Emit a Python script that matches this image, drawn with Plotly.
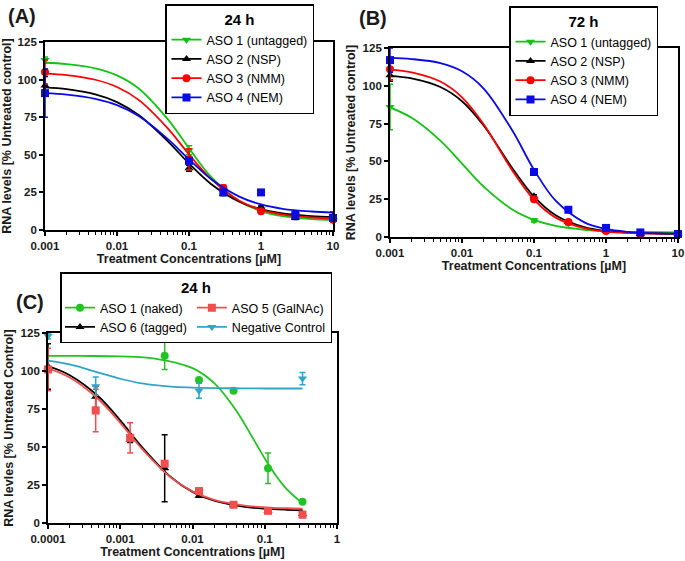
import plotly.graph_objects as go

FONT = "Liberation Sans"

# ---------------- (A) 24 h and (B) 72 h ----------------
conc_ab = [0.001, 0.1, 0.3, 1, 3, 10]
fit_x_ab = [0.001, 0.002, 0.005, 0.01, 0.02, 0.05, 0.1, 0.2, 0.5, 1, 2, 5, 10]

names_ab = ["ASO 1 (untagged)", "ASO 2 (NSP)", "ASO 3 (NMM)", "ASO 4 (NEM)"]
colors_ab = ["#13c313", "#000000", "#ff0000", "#0a0ae6"]
symbols_ab = ["triangle-down", "triangle-up", "circle", "square"]

# (A) 24 h  - mean values and error
a_aso1 = [113, 53, 25, 14, 10, 6]
a_aso1_err = [2, 3, 2, 1, 1, 1]
a_aso2 = [96, 41, 24, 15, 8, 9]
a_aso2_err = [6, 2, 1, 1, 1, 3]
a_aso3 = [105, 47, 28, 12.5, 10, 7]
a_aso3_err = [8, 7, 2, 1, 1, 1]
a_aso4 = [91, 46, 25, 25, 10, 8]
a_aso4_err = [16, 2, 1, 1, 1, 2]
# (A) fitted curves
a_fit1 = [111.2, 110.3, 107.5, 102.8, 94.1, 74.0, 54.3, 35.7, 19.2, 12.6, 9.2, 7.2, 6.6]
a_fit2 = [94.8, 93.6, 90.1, 85.0, 76.4, 59.3, 44.2, 30.8, 18.8, 13.8, 11.0, 9.2, 8.6]
a_fit3 = [104.0, 103.0, 99.9, 95.1, 86.5, 67.9, 50.3, 34.1, 19.5, 13.5, 10.2, 8.3, 7.6]
a_fit4 = [91.0, 90.0, 87.2, 83.0, 75.8, 60.8, 47.0, 34.1, 22.2, 17.0, 14.1, 12.3, 11.6]

# (B) 72 h
b_aso1 = [86, 11, 9, 4, 2, 2]
b_aso1_err = [15, 1, 1, 1, 1, 1]
b_aso2 = [107, 27, 10, 4, 2, 2]
b_aso2_err = [4, 1, 1, 1, 1, 1]
b_aso3 = [111, 25, 10, 4, 2, 2]
b_aso3_err = [7, 1, 1, 1, 1, 1]
b_aso4 = [117, 43, 18, 6, 3, 2]
b_aso4_err = [8, 1, 1, 1, 1, 1]
b_fit1 = [85.7, 78.8, 63.7, 48.5, 33.3, 18.2, 11.3, 7.3, 4.8, 3.9, 3.45, 3.2, 3.1]
b_fit2 = [106.6, 104.9, 99.2, 89.8, 73.7, 45.5, 26.7, 14.4, 6.5, 4.0, 2.9, 2.3, 2.1]
b_fit3 = [110.7, 108.9, 102.8, 92.4, 74.6, 44.0, 24.7, 12.8, 5.8, 3.6, 2.7, 2.2, 2.1]
b_fit4 = [118.5, 117.7, 115.0, 109.6, 98.2, 70.4, 44.5, 24.0, 9.7, 5.3, 3.4, 2.4, 2.2]

# ---------------- (C) 24 h ----------------
conc_c = [0.0001, 0.000457, 0.00137, 0.00412, 0.0123, 0.037, 0.111, 0.333]
names_c = ["ASO 1 (naked)", "ASO 6 (tagged)", "ASO 5 (GalNAc)", "Negative Control"]
colors_c = ["#22c322", "#000000", "#f24e4e", "#2fa5c8"]
symbols_c = ["circle", "triangle-up", "square", "triangle-down"]
c_aso1 = [None, None, None, 110, 94, 87, 36, 14]
c_aso1_err = [0, 0, 0, 9, 0, 1, 10, 0]
c_aso6 = [103, 83, 55, 36, 18, 12, 8, 6]
c_aso6_err = [15, 7, 2, 22, 1, 1, 1, 1]
c_aso5 = [101, 74, 56, 39, 21, 12, 8, 5.5]
c_aso5_err = [14, 14, 10, 1, 2, 1, 1, 2]
c_neg = [123, 90, None, None, 87, None, None, 95]
c_neg_err = [2, 6, 0, 0, 5, 0, 0, 4]
fit_x_c = [0.0001, 0.0002, 0.0005, 0.001, 0.002, 0.005, 0.01, 0.02, 0.05, 0.1, 0.2, 0.333]
fit_x_c1 = [0.0001, 0.0003, 0.001, 0.003, 0.01, 0.02, 0.04, 0.07, 0.1, 0.15, 0.2, 0.333]
c_fit1 = [110.0, 109.9, 109.6, 108.2, 101.9, 92.0, 74.2, 55.0, 42.5, 29.8, 22.4, 12.8]
c_fit6 = [103.2, 97.2, 83.2, 67.5, 50.0, 30.3, 20.5, 14.7, 10.8, 9.4, 8.7, 8.4]
c_fit5 = [101.8, 95.7, 81.4, 65.9, 48.8, 30.0, 20.8, 15.2, 11.6, 10.3, 9.7, 9.4]
c_fitneg = [106.8, 104.3, 99.0, 94.9, 91.8, 89.7, 89.1, 88.75, 88.6, 88.5, 88.5, 88.5]

fig = go.Figure()


def add_series(xa, ya, x, y, err, fx, fy, name, color, symbol, legend, group=None):
    # fitted curve
    fig.add_trace(go.Scatter(x=fx, y=fy, mode="lines", line=dict(color=color, width=1.8, shape="spline"),
                             xaxis=xa, yaxis=ya, showlegend=False, hoverinfo="skip"))
    # data points with error bars
    fig.add_trace(go.Scatter(x=x, y=y, mode="markers", cliponaxis=False,
                             marker=dict(color=color, symbol=symbol, size=8),
                             error_y=dict(type="data", array=err, color=color, thickness=1.5, width=3),
                             xaxis=xa, yaxis=ya, showlegend=False, name=name))
    # legend entry (line + marker)
    fig.add_trace(go.Scatter(x=[None], y=[None], mode="lines+markers", name=name,
                             line=dict(color=color, width=1.8), marker=dict(color=color, symbol=symbol, size=8),
                             xaxis=xa, yaxis=ya, legend=legend, legendgroup=group))


a_pts = [(a_aso1, a_aso1_err, a_fit1), (a_aso2, a_aso2_err, a_fit2), (a_aso3, a_aso3_err, a_fit3), (a_aso4, a_aso4_err, a_fit4)]
b_pts = [(b_aso1, b_aso1_err, b_fit1), (b_aso2, b_aso2_err, b_fit2), (b_aso3, b_aso3_err, b_fit3), (b_aso4, b_aso4_err, b_fit4)]
for i, (y, e, f) in enumerate(a_pts):
    add_series("x", "y", conc_ab, y, e, fit_x_ab, f, names_ab[i], colors_ab[i], symbols_ab[i], "legend")
for i, (y, e, f) in enumerate(b_pts):
    add_series("x2", "y2", conc_ab, y, e, fit_x_ab, f, names_ab[i], colors_ab[i], symbols_ab[i], "legend2")

c_pts = [(c_aso1, c_aso1_err, fit_x_c1, c_fit1, "g1"), (c_aso6, c_aso6_err, fit_x_c, c_fit6, "g1"),
         (c_aso5, c_aso5_err, fit_x_c, c_fit5, "g2"), (c_neg, c_neg_err, fit_x_c, c_fitneg, "g2")]
for i, (y, e, fx, f, g) in enumerate(c_pts):
    add_series("x3", "y3", conc_c, y, e, fx, f, names_c[i], colors_c[i], symbols_c[i], "legend3", g)

tickfont = dict(family=FONT, size=11.5, color="#1a1a1a", weight="bold")
titlefont = dict(family=FONT, size=12.5, color="#1a1a1a", weight="bold")
common = dict(showline=True, linecolor="black", linewidth=1.8, mirror=True, ticks="outside", automargin=False,
              tickcolor="black", tickwidth=1.5, ticklen=4, showgrid=False, zeroline=False, tickfont=tickfont)


def xlog(lo, hi, dom):
    vals = [10 ** e for e in range(lo, hi + 1)]
    text = ["{:g}".format(v) if v >= 0.001 else "0.0001" for v in vals]
    minor = [k * 10 ** e for e in range(lo, hi) for k in range(2, 10)]
    return dict(common, type="log", range=[lo, hi], domain=dom, tickvals=vals, ticktext=text,
                minor=dict(ticks="outside", ticklen=3, tickwidth=1, tickcolor="black", tickvals=minor),
                title=dict(text="Treatment Concentrations [µM]", font=titlefont, standoff=3))


def ylin(dom, title, anchor):
    return dict(common, range=[0, 125], domain=dom, tickvals=[0, 25, 50, 75, 100, 125], anchor=anchor,
                title=dict(text=title, font=titlefont, standoff=4))


W, H = 685, 561
legend_common = dict(bgcolor="white", bordercolor="black", borderwidth=1.5, xanchor="left", yanchor="top",
                     font=dict(family=FONT, size=12.5, color="black"), tracegroupgap=0)

fig.update_layout(
    width=W, height=H, margin=dict(l=0, r=0, t=0, b=0), autosize=False,
    paper_bgcolor="white", plot_bgcolor="white",
    xaxis=dict(xlog(-3, 1, [45 / W, 333 / W]), anchor="y"),
    yaxis=ylin([1 - 230 / H, 1 - 42 / H], "RNA levels [% Untreated control]", "x"),
    xaxis2=dict(xlog(-3, 1, [390 / W, 678 / W]), anchor="y2"),
    yaxis2=ylin([1 - 237 / H, 1 - 48 / H], "RNA levels [% Untreated control]", "x2"),
    xaxis3=dict(xlog(-4, 0, [48 / W, 337 / W]), anchor="y3"),
    yaxis3=ylin([1 - 523 / H, 1 - 333 / H], "RNA levles [% Untreated Control]", "x3"),
    legend=dict(legend_common, x=165 / W, y=1 - 4 / H,
                title=dict(text="<b>24 h</b>", side="top center", font=dict(family=FONT, size=15))),
    legend2=dict(legend_common, x=509 / W, y=1 - 6 / H,
                 title=dict(text="<b>72 h</b>", side="top center", font=dict(family=FONT, size=15))),
    legend3=dict(legend_common, x=60 / W, y=1 - 272 / H, orientation="h", traceorder="grouped",
                 title=dict(text="<b>24 h</b>", side="top center", font=dict(family=FONT, size=15))),
)

for txt, x, y in [("(A)", 22, 16), ("(B)", 373, 18), ("(C)", 30, 302)]:
    fig.add_annotation(text="<b>" + txt + "</b>", x=x / W, y=1 - y / H, xref="paper", yref="paper",
                       xanchor="center", yanchor="middle", showarrow=False,
                       font=dict(family=FONT, size=20, color="#1a1a1a"))

# the page body has a default 8px margin; remove it so the figure sits at the window corner
fig.write_html("out.html", config={"displayModeBar": False},
               post_script="document.body.style.margin='0';")
